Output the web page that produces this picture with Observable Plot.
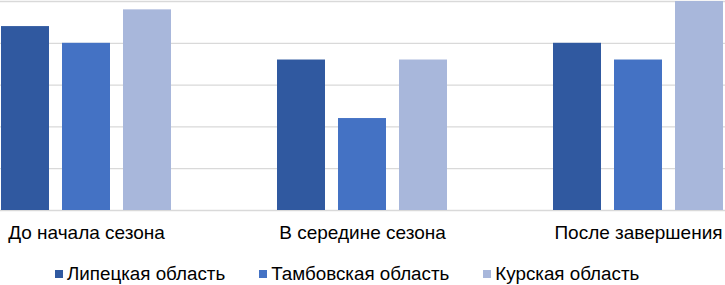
<!DOCTYPE html>
<html>
<head>
<meta charset="utf-8">
<script src="https://cdn.jsdelivr.net/npm/d3@7"></script>
<script src="https://cdn.jsdelivr.net/npm/@observablehq/plot@0.6"></script>
<style>
  html, body { margin: 0; padding: 0; background: #fff; }
  body { width: 725px; height: 285px; overflow: hidden; font-family: "Liberation Sans", Arial, sans-serif; }
  #chart svg { display: block; }
  #legend { display: flex; justify-content: flex-start; align-items: center; padding-top: 13px; padding-left: 55px; font-size: 18.8px; color: #000; line-height: 22px; }
  .item { display: flex; align-items: center; margin-right: 34px; }
  .sw { width: 8px; height: 8px; margin-right: 4px; flex: none; }
</style>
</head>
<body>
<div id="chart"></div>
<div id="legend"></div>
<script>
const categories = ["До начала сезона", "В середине сезона", "После завершения"];
const seriesNames = ["Липецкая область", "Тамбовская область", "Курская область"];
const lipetsk = [4.4, 3.6, 4.0];
const tambov = [4.0, 2.2, 3.6];
const kursk = [4.8, 3.6, 5.0];
const gridTicks = [0, 1, 2, 3, 4, 5];
const colors = ["#3059A0", "#4472C4", "#A8B7DB"];

const seriesValues = [lipetsk, tambov, kursk];
const data = [];
categories.forEach((c, i) => {
  seriesNames.forEach((s, j) => data.push({category: c, series: s, value: seriesValues[j][i]}));
});

const chart = Plot.plot({
  width: 725,
  height: 250,
  marginTop: 1,
  marginBottom: 40,
  marginLeft: -53,
  marginRight: -51,
  style: {fontFamily: "'Liberation Sans', Arial, sans-serif", fontSize: "19px", color: "#000", background: "#fff"},
  fx: {domain: categories, padding: 0, label: null, axis: "bottom", tickSize: 0, tickPadding: 15},
  x: {domain: seriesNames, paddingInner: 0.216, paddingOuter: 0.853, axis: null},
  y: {domain: [0, 5], axis: null},
  color: {domain: seriesNames, range: colors},
  marks: [
    Plot.ruleY(gridTicks, {stroke: "#d9d9d9", strokeWidth: 1.3}),
    Plot.barY(data, {fx: "category", x: "series", y: "value", fill: "series"})
  ]
});
document.getElementById("chart").appendChild(chart);

const legend = document.getElementById("legend");
seriesNames.forEach((s, i) => {
  const it = document.createElement("div");
  it.className = "item";
  const sw = document.createElement("span");
  sw.className = "sw";
  sw.style.background = colors[i];
  const t = document.createElement("span");
  t.textContent = s;
  it.appendChild(sw);
  it.appendChild(t);
  legend.appendChild(it);
});
</script>
</body>
</html>
